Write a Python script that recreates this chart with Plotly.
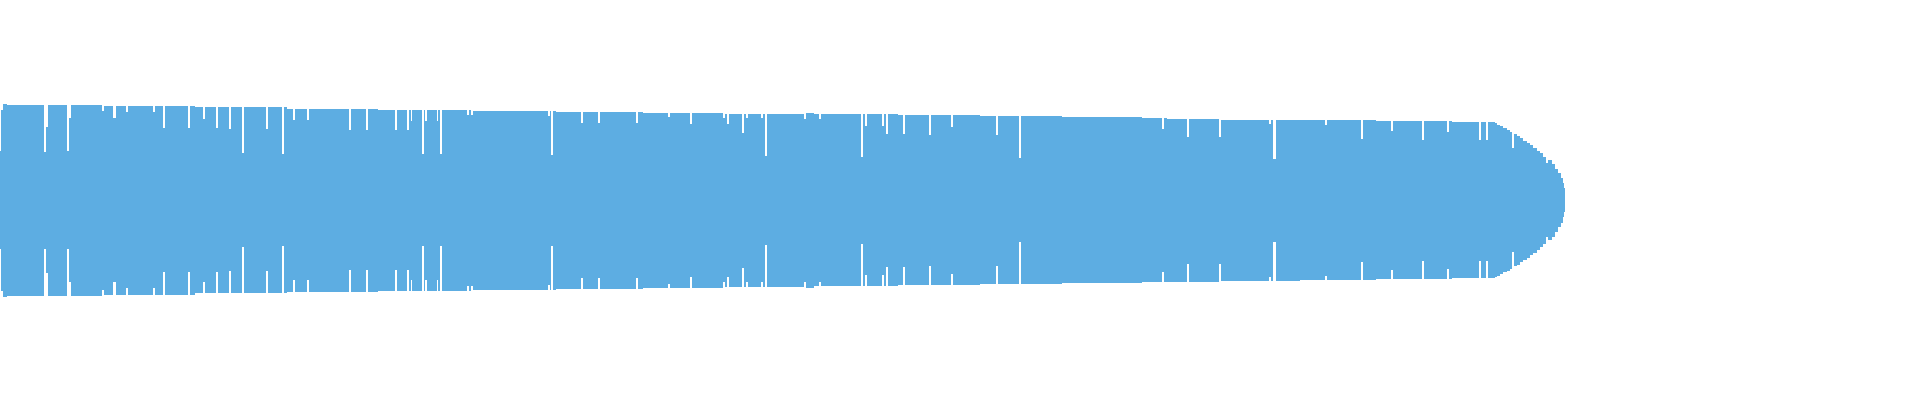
import numpy as np
import plotly.graph_objects as go

# sample index where each level begins, and the level value from there on
level_start = [0, 1, 3, 7.3, 44, 45.7, 48, 66.7, 69, 71, 101.7, 104, 113.3, 115.7, 126, 128,
               153, 155, 162.7, 164.7, 188.3, 190, 195, 202.7, 204.7, 216, 217.7, 229, 231,
               241.7, 243.7, 266, 267.7, 282, 284, 287.3, 292.7, 294.7, 306.7, 309, 349, 351,
               366, 368, 377.7, 395, 397, 407, 409, 410.3, 412, 422, 424, 424.7, 426.7, 436.7,
               438.7, 440, 442, 467.3, 469, 470.7, 472.7, 548.3, 550, 551, 552.7, 555.7, 581,
               583, 598, 600, 636, 638, 643.3, 668, 670, 690, 692, 722.7, 724.7, 726.7, 729,
               742, 744, 746, 748, 761.3, 763.3, 765, 767, 804, 806, 814, 819.3, 821.3, 861,
               863, 865, 867, 882, 884, 886, 888, 898, 903.3, 905.3, 929, 931, 950.7, 952.7,
               980, 996, 998, 1018.7, 1020.7, 1061.7, 1141.7, 1161.7, 1163.7, 1166.7, 1187,
               1189, 1219, 1221, 1268.7, 1270.7, 1273.3, 1275.7, 1300, 1325, 1327, 1361, 1363,
               1376, 1391, 1393, 1422, 1424, 1447, 1449, 1452, 1479.3, 1481.3, 1485.7, 1487.7,
               1495, 1497.3, 1500, 1503.3, 1506.7, 1510, 1512, 1513.7, 1516.7, 1520, 1523.3,
               1526.7, 1530, 1533.3, 1536.7, 1540, 1543.3, 1546, 1548, 1551.7, 1555, 1558.3,
               1560.7, 1562.7, 1564]
level_value = [98, 181, 193, 191, 97, 146, 191, 98, 164, 191, 179, 189, 164, 189, 176, 189,
               176, 189, 144, 189, 144, 189, 186, 163, 186, 144, 186, 142, 186,
               94, 186, 142, 186, 92, 186, 183, 160, 183, 160, 183, 140, 183,
               140, 183, 181, 140, 181, 140, 181, 159, 181, 92, 181, 159, 181, 159,
               181, 92, 181, 171, 181, 171, 179, 169, 179, 91, 179, 177, 155,
               177, 155, 177, 155, 177, 175, 167, 175, 153, 175, 164, 173, 153, 173,
               135, 173, 164, 173, 164, 173, 89, 173, 163, 175, 172, 163, 172, 87,
               172, 149, 172, 149, 172, 133, 172, 170, 133, 170, 131, 170, 147, 170,
               168, 131, 168, 84, 168, 166, 164, 143, 164, 163, 127,
               163, 127, 161, 153, 161, 83, 161, 160, 151, 160, 123, 160,
               158, 139, 158, 121, 158, 137, 158, 156, 121, 156, 121, 156,
               154, 151, 148, 144, 141, 137, 104, 132, 129, 124, 119,
               115, 110, 105, 99, 94, 87, 74, 80, 73, 63, 54,
               45, 34, 24]
series_end = 1565

starts = np.array(level_start, dtype=float)
ends = np.append(starts[1:], series_end)
vals = np.array(level_value, dtype=float)

fig = go.Figure(go.Bar(
    x=(starts + ends) / 2,
    y=vals,
    base=-vals / 2,
    width=ends - starts,
    marker=dict(color='#5DADE2', line=dict(width=0)),
    hoverinfo='skip',
))

fig.update_layout(
    width=1920, height=400,
    margin=dict(l=0, r=0, t=0, b=0),
    paper_bgcolor='white',
    plot_bgcolor='white',
    bargap=0,
    showlegend=False,
    xaxis=dict(range=[0, 1920], visible=False, showgrid=False, zeroline=False),
    yaxis=dict(range=[-200, 200], visible=False, showgrid=False, zeroline=False),
)

# page body has a default 8px margin; drop it so the figure sits at the corner
fig.write_html("out.html", config={'displayModeBar': False},
               post_script="document.body.style.margin = '0';")
